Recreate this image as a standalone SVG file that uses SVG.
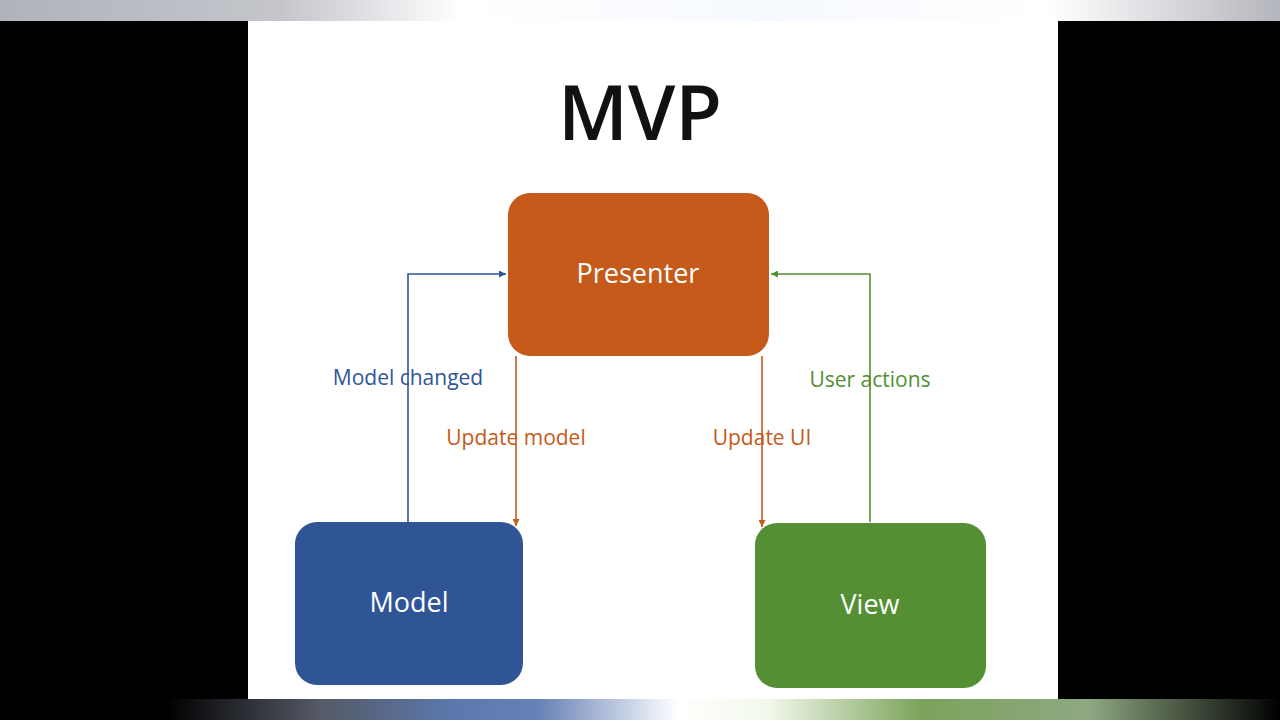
<svg xmlns="http://www.w3.org/2000/svg" width="1280" height="720" viewBox="0 0 1280 720">
<defs>
<linearGradient id="top" x1="0" x2="1" y1="0" y2="0">
<stop offset="0" stop-color="#b0b3ba"/><stop offset="0.22" stop-color="#c4c6cc"/><stop offset="0.36" stop-color="#ffffff"/><stop offset="0.6" stop-color="#f6f9fe"/><stop offset="0.82" stop-color="#ffffff"/><stop offset="1" stop-color="#b4b6bd"/>
</linearGradient>
<linearGradient id="bot" x1="0" x2="1" y1="0" y2="0">
<stop offset="0.13" stop-color="#000"/><stop offset="0.25" stop-color="#555a66"/><stop offset="0.35" stop-color="#5b77ab"/><stop offset="0.42" stop-color="#6681b6"/><stop offset="0.53" stop-color="#ffffff"/><stop offset="0.6" stop-color="#f2f8ea"/><stop offset="0.72" stop-color="#7aa35b"/><stop offset="0.85" stop-color="#8fa882"/><stop offset="1" stop-color="#000"/>
</linearGradient>
<marker id="ab" viewBox="0 0 10 10" refX="10" refY="5" markerWidth="7" markerHeight="7" orient="auto" markerUnits="userSpaceOnUse"><path d="M0,0L10,5L0,10z" fill="#2f5597"/></marker>
<marker id="ao" viewBox="0 0 10 10" refX="10" refY="5" markerWidth="7" markerHeight="7" orient="auto" markerUnits="userSpaceOnUse"><path d="M0,0L10,5L0,10z" fill="#c55a1a"/></marker>
<marker id="ag" viewBox="0 0 10 10" refX="10" refY="5" markerWidth="7" markerHeight="7" orient="auto" markerUnits="userSpaceOnUse"><path d="M0,0L10,5L0,10z" fill="#548f34"/></marker>
</defs>
<style>
.n{font-family:"Open Sans","Liberation Sans",sans-serif;font-size:27px;fill:#fff;text-anchor:middle}
.l{font-family:"Open Sans","Liberation Sans",sans-serif;font-size:21px;text-anchor:middle}
.c{fill:none;stroke-width:1.6}
</style>
<rect width="1280" height="720" fill="#000"/>
<rect x="0" y="0" width="1280" height="21" fill="url(#top)"/>
<rect x="248" y="21" width="810" height="678" fill="#fff"/>
<rect x="0" y="699" width="1280" height="21" fill="url(#bot)"/>
<text x="640" y="140" font-family="Open Sans, Liberation Sans, sans-serif" font-weight="600" font-size="76" text-anchor="middle" fill="#111">MVP</text>
<g id="connectors">
<path class="c" stroke="#2f5597" d="M408,522V274H506" marker-end="url(#ab)"/>
<path class="c" stroke="#c55a1a" d="M516,356V526" marker-end="url(#ao)"/>
<path class="c" stroke="#c55a1a" d="M762,356V527" marker-end="url(#ao)"/>
<path class="c" stroke="#548f34" d="M870,522V274H771" marker-end="url(#ag)"/>
<text class="l" x="408" y="385" fill="#2f5597">Model changed</text>
<text class="l" x="516" y="445" fill="#c55a1a">Update model</text>
<text class="l" x="762" y="445" fill="#c55a1a">Update UI</text>
<text class="l" x="870" y="387" fill="#548f34">User actions</text>
</g>
<g id="presenter"><rect x="508" y="193" width="261" height="163" rx="22" fill="#c55a1a"/><text class="n" x="638" y="283">Presenter</text></g>
<g id="model"><rect x="295" y="522" width="228" height="163" rx="22" fill="#2f5597"/><text class="n" x="409" y="612">Model</text></g>
<g id="view"><rect x="755" y="523" width="231" height="165" rx="22" fill="#548f34"/><text class="n" x="870" y="614">View</text></g>
</svg>
